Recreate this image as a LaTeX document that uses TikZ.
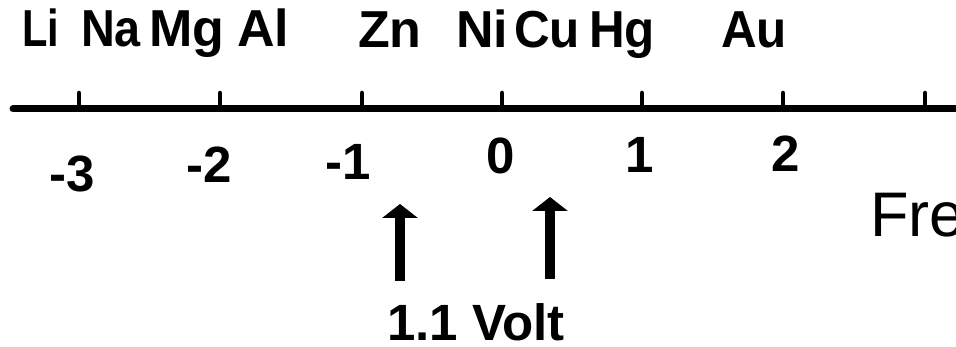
\documentclass[tikz,border=0pt]{standalone}
\usepackage{fontspec}
\setmainfont{Liberation Sans}
\usetikzlibrary{arrows.meta}
\tikzset{
  elem/.style={font=\bfseries\fontsize{52}{52}\selectfont, anchor=base west, inner sep=0pt},
  num/.style={font=\bfseries\fontsize{51}{51}\selectfont, anchor=base, inner sep=0pt},
  axisline/.style={line width=7pt, line cap=round},
  tickmark/.style={line width=4.5pt, line cap=round},
  marker/.style={line width=9.5pt, -{Triangle[length=14pt 0, width=35pt 0]}},
}
\begin{document}
\begin{tikzpicture}[x=1pt, y=-1pt]
\useasboundingbox (0,0) rectangle (956,347);
\fill[white] (0,0) rectangle (956,347);
\begin{scope}
\clip (0,0) rectangle (956,347);
% element labels
\node[elem, xscale=0.8] (li) at (22,47) {Li};
\node[elem, xscale=0.9] (na) at (81,47) {Na};
\node[elem] (mg) at (149,47) {Mg};
\node[elem] (al) at (237,47) {Al};
\node[elem] (zn) at (358,48) {Zn};
\node[elem] (ni) at (456,48) {Ni};
\node[elem, xscale=0.95] (cu) at (514,48) {Cu};
\node[elem, xscale=0.95] (hg) at (589,48) {Hg};
\node[elem, xscale=0.95] (au) at (721,48) {Au};
% axis
\coordinate (axL) at (13,109);
\coordinate (axR) at (960,109);
\draw[axisline] (axL) -- (axR);
\foreach \n/\x in {a/79, b/220, c/362, d/502, e/642, f/783, g/925}{
  \coordinate (tb\n) at (\x,109);
  \coordinate (tt\n) at (\x,93);
  \draw[tickmark] (tb\n) -- (tt\n);
}
% tick labels
\node[num] (nm3) at (72.5,192) {-3};
\node[num] (nm2) at (209,183) {-2};
\node[num] (nm1) at (348.5,180) {-1};
\node[num] (n0) at (500.5,174) {0};
\node[num] (n1) at (640,173) {1};
\node[num] (n2) at (785.5,172) {2};
% arrows
\coordinate (zs) at (400,281);
\coordinate (ze) at (400,204);
\coordinate (cs) at (550,279);
\coordinate (ce) at (550,197);
\draw[marker] (zs) -- (ze);
\draw[marker] (cs) -- (ce);
\node[num] (volt) at (476,341) {1.1 Volt};
% cut-off text
\node[anchor=base west, inner sep=0pt, font=\fontsize{63}{63}\selectfont] (fre) at (870,237) {Fre};
\end{scope}
\end{tikzpicture}
\end{document}
